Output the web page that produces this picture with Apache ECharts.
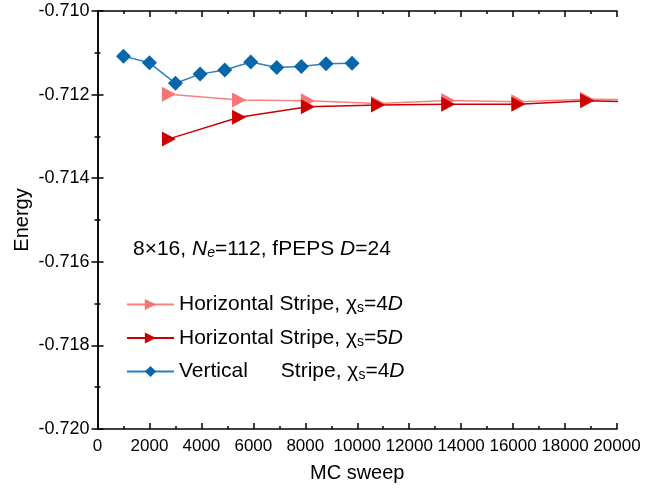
<!DOCTYPE html>
<html><head><meta charset="utf-8">
<script src="https://cdn.jsdelivr.net/npm/echarts@6/dist/echarts.min.js"></script>
<style>html,body{margin:0;padding:0;background:#fff}#c{width:671px;height:492px}</style>
</head><body><div id="c"></div>
<script>
// ---- data ----
const blueX = [1000, 2000, 3000, 3950, 4900, 5900, 6900, 7850, 8800, 9800];
const blueY = [-0.71108, -0.71124, -0.71173, -0.71151, -0.71141, -0.71122, -0.71135, -0.71133, -0.71126, -0.71125];
const h4X = [2750, 5450, 8100, 10800, 13500, 16200, 18850, 21550];
const h4Y = [-0.71199, -0.71213, -0.71215, -0.71221, -0.71214, -0.71217, -0.71211, -0.71212];
const h5X = [2750, 5450, 8100, 10800, 13500, 16200, 18850, 21550];
const h5Y = [-0.71306, -0.71254, -0.71229, -0.71225, -0.71223, -0.71223, -0.71215, -0.71219];
const seriesNames = ['h4', 'h5', 'v4'];
const xTicks = {min: 0, max: 20000, interval: 2000};
const yTicks = {min: -0.720, max: -0.710, interval: 0.002};

const FONT = 'Arial, "Liberation Sans", sans-serif';
const pair = (xs, ys) => xs.map((x, i) => [x, ys[i]]);
const tri = 'path://M0,0 L10,5 L0,10 Z';

const legendText = {
  h4: '{t|Horizontal Stripe, }{g|χ}{sub|s}{t|=4}{i|D}',
  h5: '{t|Horizontal Stripe, }{g|χ}{sub|s}{t|=5}{i|D}',
  v4: '{vw|Vertical}{t| Stripe, }{g|χ}{sub|s}{t|=4}{i|D}'
};
const rich = {
  t: {fontSize: 21, fontFamily: FONT, color: '#000'},
  vw: {fontSize: 21, fontFamily: FONT, color: '#000', width: 96},
  g: {fontSize: 21, fontFamily: FONT, color: '#000'},
  i: {fontSize: 21, fontFamily: FONT, color: '#000', fontStyle: 'italic'},
  sub: {fontSize: 14, fontFamily: FONT, color: '#000', verticalAlign: 'bottom', padding: [8, 0, 0, 0]}
};

const axisCommon = {
  axisLine: {show: true, lineStyle: {color: '#000', width: 1.5}},
  axisTick: {show: true, inside: true, length: 6, lineStyle: {color: '#000', width: 1.5}},
  minorTick: {show: true, splitNumber: 2, length: 3, lineStyle: {color: '#000', width: 1.5}},
  splitLine: {show: false}
};

const chart = echarts.init(document.getElementById('c'), null, {renderer: 'canvas'});
chart.setOption({
  animation: false,
  backgroundColor: '#fff',
  grid: {left: 97.5, right: 54, top: 11, bottom: 63, containLabel: false},
  xAxis: [
    Object.assign({type: 'value', position: 'bottom', min: xTicks.min, max: xTicks.max, interval: xTicks.interval,
      name: 'MC sweep', nameLocation: 'middle', nameGap: 34,
      nameTextStyle: {fontSize: 20, fontFamily: FONT, color: '#000'},
      axisLabel: {fontSize: 17, fontFamily: FONT, color: '#000', margin: 9, showMinLabel: true, showMaxLabel: true,
        hideOverlap: false, formatter: v => String(v)}}, axisCommon),
    Object.assign({type: 'value', position: 'top', min: xTicks.min, max: xTicks.max, interval: xTicks.interval,
      axisLabel: {show: false}}, axisCommon)
  ],
  yAxis: [
    Object.assign({type: 'value', position: 'left', min: yTicks.min, max: yTicks.max, interval: yTicks.interval,
      name: 'Energy', nameLocation: 'middle', nameGap: 65, nameMoveOverlap: false,
      nameTextStyle: {fontSize: 20, fontFamily: FONT, color: '#000'},
      axisLabel: {fontSize: 18, fontFamily: FONT, color: '#000', margin: 8, formatter: v => v.toFixed(3)}}, axisCommon),
    Object.assign({type: 'value', position: 'right', min: yTicks.min, max: yTicks.max, interval: yTicks.interval,
      axisLabel: {show: false}}, axisCommon)
  ],
  legend: {
    orient: 'vertical', left: 126, top: 294, padding: 0, itemWidth: 47, itemHeight: 14, itemGap: 12,
    data: seriesNames,
    formatter: n => legendText[n],
    textStyle: {rich: rich, fontSize: 21, fontFamily: FONT}
  },
  graphic: [{
    type: 'text', left: 133, top: 239,
    style: {
      text: '{t|8×16, }{i|N}{isub|e}{t|=112, fPEPS }{i|D}{t|=24}',
      rich: {
        t: {fontSize: 21, fontFamily: FONT, fill: '#000'},
        i: {fontSize: 21, fontFamily: FONT, fill: '#000', fontStyle: 'italic'},
        isub: {fontSize: 14, fontFamily: FONT, fill: '#000', fontStyle: 'italic', verticalAlign: 'bottom', padding: [8, 0, 0, 0]}
      }
    }
  }],
  series: [
    {name: 'h4', type: 'line', data: pair(h4X, h4Y), symbol: tri, symbolSize: [14, 15],
     lineStyle: {color: '#fa8080', width: 1.5}, itemStyle: {color: '#f87474'}, z: 2},
    {name: 'h5', type: 'line', data: pair(h5X, h5Y), symbol: tri, symbolSize: [14, 15],
     lineStyle: {color: '#cc0000', width: 1.5}, itemStyle: {color: '#cc0000'}, z: 3},
    {name: 'v4', type: 'line', data: pair(blueX, blueY), symbol: 'diamond', symbolSize: 15,
     lineStyle: {color: '#2f7fbf', width: 1.5}, itemStyle: {color: '#0866ab'}, z: 4}
  ]
});
</script></body></html>
